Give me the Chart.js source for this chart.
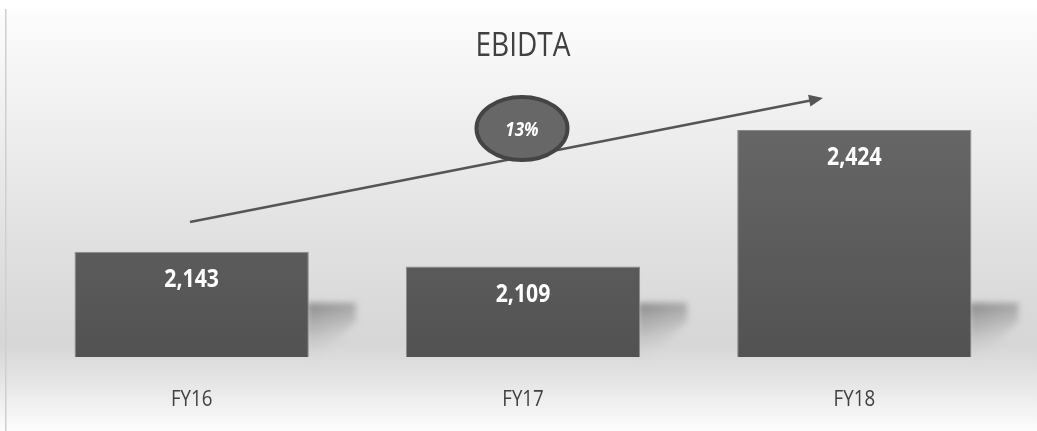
<!DOCTYPE html>
<html>
<head>
<meta charset="utf-8">
<script src="https://cdn.jsdelivr.net/npm/chart.js@4.4.1/dist/chart.umd.min.js"></script>
<style>
html,body{margin:0;padding:0;background:#fff;}
#wrap{width:1037px;height:431px;position:relative;}
</style>
</head>
<body>
<div id="wrap"><canvas id="c" width="1037" height="431"></canvas></div>
<script>
const categories = ["FY16", "FY17", "FY18"];
const ebitda = [2143, 2109, 2424];
const valueLabels = ["2,143", "2,109", "2,424"];
const growthLabel = "13%";
const chartTitle = "EBIDTA";

const FONT = "'Open Sans', 'Liberation Sans', sans-serif";
const CONDENSE = 0.85;

function condensedText(ctx, text, x, y, font, color) {
  ctx.save();
  ctx.font = font;
  ctx.fillStyle = color;
  ctx.textAlign = 'center';
  ctx.textBaseline = 'middle';
  ctx.translate(x, y);
  ctx.scale(CONDENSE, 1);
  ctx.fillText(text, 0, 0);
  ctx.restore();
}

const bgPlugin = {
  id: 'bg',
  beforeDraw(chart) {
    const ctx = chart.ctx, w = chart.width, h = chart.height;
    ctx.save();
    const g = ctx.createLinearGradient(0, 0, 0, h);
    g.addColorStop(0, '#ffffff');
    g.addColorStop(0.05, '#fbfbfb');
    g.addColorStop(0.3, '#eeeeee');
    g.addColorStop(0.55, '#e1e1e1');
    g.addColorStop(0.8, '#d6d6d6');
    g.addColorStop(0.9, '#e8e8e8');
    g.addColorStop(1, '#fdfdfd');
    ctx.fillStyle = g;
    ctx.fillRect(0, 0, w, h);
    ctx.fillStyle = '#ffffff';
    ctx.fillRect(0, 0, w, 9);
    ctx.fillStyle = '#cfcfcf';
    ctx.fillRect(5, 9, 1.5, h - 9);
    ctx.restore();
    condensedText(ctx, chartTitle, 523, 47, "normal 33px " + FONT, '#404040');
  },
  beforeDatasetsDraw(chart) {
    const ctx = chart.ctx;
    const meta = chart.getDatasetMeta(0);
    const b = chart.chartArea.bottom;
    meta.data.forEach(bar => {
      const props = bar.getProps(['x', 'width'], true);
      const r = props.x + props.width / 2 - 2;
      ctx.save();
      ctx.filter = 'blur(3px)';
      const g = ctx.createLinearGradient(r, b - 54, r + 16, b);
      g.addColorStop(0, 'rgba(120,120,120,0.85)');
      g.addColorStop(0.5, 'rgba(155,155,155,0.5)');
      g.addColorStop(1, 'rgba(210,210,210,0.0)');
      ctx.fillStyle = g;
      ctx.beginPath();
      ctx.moveTo(r, b - 54);
      ctx.lineTo(r + 49, b - 54);
      ctx.lineTo(r + 49, b - 36);
      ctx.lineTo(r + 12, b);
      ctx.lineTo(r, b);
      ctx.closePath();
      ctx.fill();
      ctx.restore();
    });
  },
  afterDatasetsDraw(chart) {
    const ctx = chart.ctx;
    const meta = chart.getDatasetMeta(0);
    meta.data.forEach((bar, i) => {
      condensedText(ctx, valueLabels[i], bar.x, bar.y + 28, "bold 25px " + FONT, '#ffffff');
    });
    const xs = chart.scales.x;
    categories.forEach((c, i) => {
      condensedText(ctx, c, xs.getPixelForTick(i), 400, "normal 22px " + FONT, '#404040');
    });
    ctx.save();
    const x0 = 190, y0 = 222, x1 = 823, y1 = 98;
    ctx.strokeStyle = '#555555';
    ctx.lineWidth = 2.5;
    ctx.beginPath();
    ctx.moveTo(x0, y0);
    ctx.lineTo(x1 - 10, y1 + 2);
    ctx.stroke();
    const ang = Math.atan2(y1 - y0, x1 - x0);
    ctx.fillStyle = '#555555';
    ctx.beginPath();
    ctx.moveTo(x1, y1);
    ctx.lineTo(x1 - 14 * Math.cos(ang) + 6 * Math.sin(ang), y1 - 14 * Math.sin(ang) - 6 * Math.cos(ang));
    ctx.lineTo(x1 - 14 * Math.cos(ang) - 6 * Math.sin(ang), y1 - 14 * Math.sin(ang) + 6 * Math.cos(ang));
    ctx.closePath();
    ctx.fill();
    ctx.beginPath();
    ctx.ellipse(522, 128.5, 45.5, 31.5, 0, 0, Math.PI * 2);
    ctx.fillStyle = '#676767';
    ctx.fill();
    ctx.lineWidth = 4;
    ctx.strokeStyle = '#444444';
    ctx.stroke();
    ctx.restore();
    condensedText(ctx, growthLabel, 522, 130, "italic bold 20px " + FONT, '#ffffff');
  }
};

const ctxEl = document.getElementById('c');
const ctx2d = ctxEl.getContext('2d');
const barGrad = ctx2d.createLinearGradient(0, 130, 0, 357);
barGrad.addColorStop(0, '#666666');
barGrad.addColorStop(1, '#525252');

new Chart(ctxEl, {
  type: 'bar',
  data: {
    labels: categories,
    datasets: [{
      data: ebitda,
      backgroundColor: barGrad,
      borderColor: '#8a8a8a',
      borderWidth: 1,
      barPercentage: 0.707,
      categoryPercentage: 1.0
    }]
  },
  options: {
    responsive: false,
    animation: false,
    devicePixelRatio: 1,
    layout: { padding: { left: 26, right: 17, top: 97, bottom: 19 } },
    plugins: {
      legend: { display: false },
      tooltip: { enabled: false },
      title: { display: false }
    },
    scales: {
      x: {
        grid: { display: false, drawTicks: false },
        border: { display: false },
        ticks: { display: false },
        afterFit(s) { s.height = 55; }
      },
      y: {
        display: false,
        min: 1900,
        max: 2500
      }
    }
  },
  plugins: [bgPlugin]
});
</script>
</body>
</html>
